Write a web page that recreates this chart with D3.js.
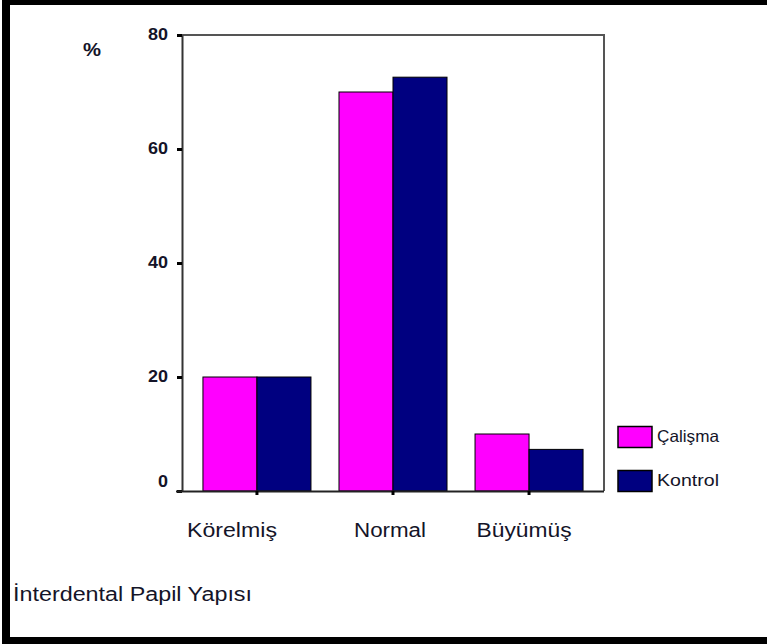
<!DOCTYPE html>
<html>
<head>
<meta charset="utf-8">
<script src="https://cdn.jsdelivr.net/npm/d3@7"></script>
<style>
  html, body { margin: 0; padding: 0; background: #fff; }
  svg { display: block; }
  text { font-family: "Liberation Sans", Arial, sans-serif; fill: #141428; }
</style>
</head>
<body>
<svg id="chart" width="767" height="644"></svg>
<script>
// Interdental papilla structure, percentage of each group
const categories = ["Körelmiş", "Normal", "Büyümüş"];
const seriesNames = ["Çalişma", "Kontrol"];
const calismaValues = [20, 70, 10];
const kontrolValues = [20, 72.6, 7.3];
const yTicks = [0, 20, 40, 60, 80];
const yLabel = "%";
const xTitle = "İnterdental Papil Yapısı";

const colors = ["#ff00ff", "#000080"];
const series = [calismaValues, kontrolValues];

const svg = d3.select("#chart");

// outer frame
svg.append("rect").attr("x", 0).attr("y", 0).attr("width", 767).attr("height", 644).attr("fill", "#fff");
svg.append("rect").attr("x", 2).attr("y", 0).attr("width", 765).attr("height", 5).attr("fill", "#000");
svg.append("rect").attr("x", 2).attr("y", 0).attr("width", 8).attr("height", 644).attr("fill", "#000");
svg.append("rect").attr("x", 2).attr("y", 637).attr("width", 765).attr("height", 7).attr("fill", "#000");

const plot = { left: 182, right: 604, top: 35, bottom: 491 };

const x = d3.scaleBand()
  .domain(categories)
  .range([plot.left, plot.right])
  .paddingInner(0.206)
  .paddingOuter(0.154);

const xs = d3.scaleBand()
  .domain(seriesNames)
  .range([0, x.bandwidth()]);

const y = d3.scaleLinear().domain([0, 80]).range([plot.bottom, plot.top]);

// plot frame (top and right)
svg.append("path")
  .attr("d", `M${plot.left},${plot.top}H${plot.right}V${plot.bottom}`)
  .attr("fill", "none").attr("stroke", "#555").attr("stroke-width", 2);

// bars
const groups = svg.append("g").selectAll("g")
  .data(categories)
  .join("g")
  .attr("transform", d => `translate(${x(d)},0)`);

groups.selectAll("rect")
  .data((c, i) => seriesNames.map((s, k) => ({ s, v: series[k][i], k })))
  .join("rect")
  .attr("x", d => xs(d.s))
  .attr("y", d => y(d.v))
  .attr("width", xs.bandwidth())
  .attr("height", d => y(0) - y(d.v))
  .attr("fill", d => colors[d.k])
  .attr("stroke", "#000")
  .attr("stroke-width", 1);

// y axis
const yAxis = d3.axisLeft(y).tickValues(yTicks).tickSize(5).tickSizeOuter(0).tickFormat(d3.format("d"));
const ya = svg.append("g").attr("transform", `translate(${plot.left},0)`).call(yAxis);
ya.select(".domain").attr("stroke", "#333").attr("stroke-width", 2);
ya.selectAll(".tick line").attr("stroke", "#000").attr("stroke-width", 3);
ya.selectAll(".tick text")
  .attr("x", -14)
  .attr("dy", d => d === 0 ? "-0.3em" : "0.3em")
  .attr("font-size", 16.5)
  .attr("font-weight", "bold")
  .attr("fill", "#141428")
  .attr("textLength", d => String(d).length * 10)
  .attr("lengthAdjust", "spacingAndGlyphs");

// x axis
const xAxis = d3.axisBottom(x).tickSize(4).tickSizeOuter(0).tickFormat("");
const xa = svg.append("g").attr("transform", `translate(0,${plot.bottom})`).call(xAxis);
xa.select(".domain").attr("d", `M${plot.left - 6},0.5H${plot.right}`).attr("stroke", "#222").attr("stroke-width", 2);
xa.selectAll(".tick line").attr("stroke", "#000").attr("stroke-width", 3);

// category labels
const labelShift = [-25, -3, -5];
const labelWidth = [90, 72, 95];
svg.append("g").selectAll("text")
  .data(categories)
  .join("text")
  .attr("x", (d, i) => x(d) + x.bandwidth() / 2 + labelShift[i])
  .attr("y", 537)
  .attr("text-anchor", "middle")
  .attr("font-size", 20)
  .attr("textLength", (d, i) => labelWidth[i])
  .attr("lengthAdjust", "spacingAndGlyphs")
  .text(d => d);

// axis titles
svg.append("text").attr("x", 83).attr("y", 56).attr("font-size", 18).attr("font-weight", "bold")
  .attr("textLength", 18).attr("lengthAdjust", "spacingAndGlyphs").text(yLabel);
svg.append("text").attr("x", 13).attr("y", 601).attr("font-size", 20)
  .attr("textLength", 239).attr("lengthAdjust", "spacingAndGlyphs").text(xTitle);

// legend
const legend = svg.append("g").selectAll("g")
  .data(seriesNames)
  .join("g")
  .attr("transform", (d, i) => `translate(618,${426.5 + i * 44})`);
legend.append("rect")
  .attr("width", 34).attr("height", 21)
  .attr("fill", (d, i) => colors[i])
  .attr("stroke", "#000").attr("stroke-width", 1.5);
legend.append("text")
  .attr("x", 39).attr("y", 15.5)
  .attr("font-size", 16.5)
  .attr("textLength", 62).attr("lengthAdjust", "spacingAndGlyphs")
  .text(d => d);
</script>
</body>
</html>
